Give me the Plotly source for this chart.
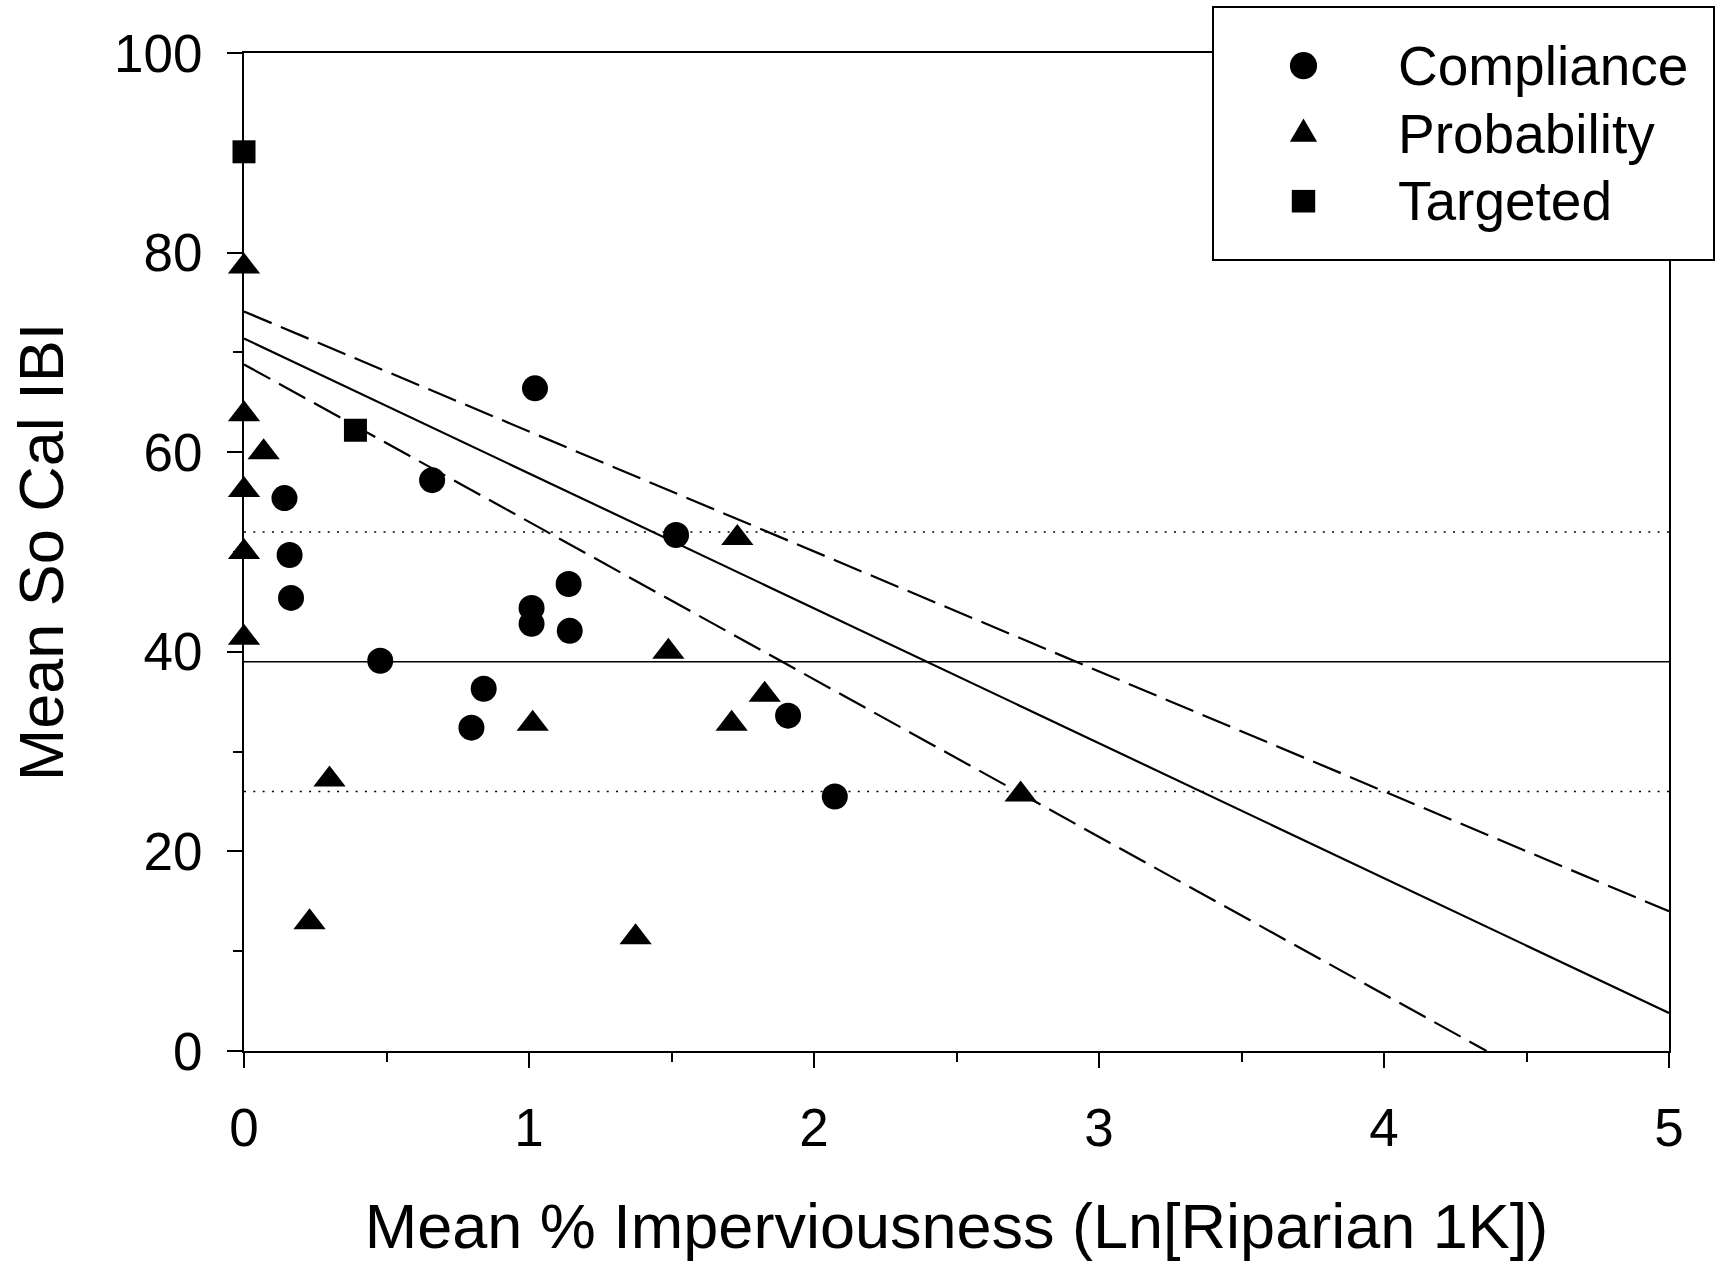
import plotly.graph_objects as go

# ---- data -------------------------------------------------------------
series_names = ["Compliance", "Probability", "Targeted"]

compliance_x = [0.142, 0.160, 0.165, 0.478, 0.660, 0.798, 0.841, 1.009,
                1.009, 1.021, 1.139, 1.143, 1.516, 1.909, 2.073]
compliance_y = [55.4, 49.7, 45.4, 39.1, 57.2, 32.4, 36.3, 44.4,
                42.8, 66.4, 46.8, 42.1, 51.7, 33.6, 25.5]

probability_x = [0.0, 0.0, 0.0, 0.0, 0.0, 0.069, 0.230, 0.300,
                 1.013, 1.374, 1.489, 1.711, 1.731, 1.827, 2.725]
probability_y = [78.6, 63.8, 56.2, 50.0, 41.4, 60.0, 12.9, 27.2,
                 32.8, 11.4, 40.0, 32.8, 51.4, 35.7, 25.7]

targeted_x = [0.0, 0.391]
targeted_y = [90.1, 62.2]

# regression line and its confidence limits (end points)
fit_x = [0.0, 5.0]
fit_y = [71.4, 3.8]
upper_x = [0.0, 5.0]
upper_y = [74.1, 14.0]
lower_x = [0.0, 4.36]
lower_y = [68.8, 0.0]

# reference IBI thresholds
threshold_solid = 39
threshold_dotted = [52, 26]

x_range = [0, 5]
y_range = [0, 100]
x_ticks = [0, 1, 2, 3, 4, 5]
y_ticks = [0, 20, 40, 60, 80, 100]

x_title = "Mean % Imperviousness (Ln[Riparian 1K])"
y_title = "Mean So Cal IBI"

# ---- figure -----------------------------------------------------------
FONT = "Liberation Sans, Arial, Helvetica, sans-serif"
W, H = 1715, 1263
ML, MR, MT, MB = 244, 46, 53, 212
PW, PH = W - ML - MR, H - MT - MB


def px_x(px):
    """pixel column -> paper x"""
    return (px - ML) / PW


def px_y(py):
    """pixel row -> paper y"""
    return (H - MB - py) / PH


fig = go.Figure()

# threshold lines
fig.add_trace(go.Scatter(x=x_range, y=[threshold_solid] * 2, mode="lines",
                         line=dict(color="black", width=1.6),
                         hoverinfo="skip", cliponaxis=False))
for yv in threshold_dotted:
    fig.add_trace(go.Scatter(x=x_range, y=[yv] * 2, mode="lines",
                             line=dict(color="black", width=1.6, dash="2px,7.3px"),
                             hoverinfo="skip"))

# regression and confidence limits
fig.add_trace(go.Scatter(x=upper_x, y=upper_y, mode="lines",
                         line=dict(color="black", width=2.2, dash="30px,10px"),
                         hoverinfo="skip"))
fig.add_trace(go.Scatter(x=lower_x, y=lower_y, mode="lines",
                         line=dict(color="black", width=2.2, dash="30px,10px"),
                         hoverinfo="skip"))
fig.add_trace(go.Scatter(x=fit_x, y=fit_y, mode="lines",
                         line=dict(color="black", width=2.2),
                         hoverinfo="skip"))

# site groups
fig.add_trace(go.Scatter(x=compliance_x, y=compliance_y, mode="markers",
                         name=series_names[0], cliponaxis=False,
                         marker=dict(symbol="circle", size=26, color="black",
                                     line=dict(width=0))))
fig.add_trace(go.Scatter(x=probability_x, y=probability_y, mode="markers",
                         name=series_names[1], cliponaxis=False,
                         marker=dict(symbol="triangle-up", size=28, color="black",
                                     line=dict(width=0))))
fig.add_trace(go.Scatter(x=targeted_x, y=targeted_y, mode="markers",
                         name=series_names[2], cliponaxis=False,
                         marker=dict(symbol="square", size=23, color="black",
                                     line=dict(width=0))))

axis_common = dict(
    showline=True, linewidth=2, linecolor="black", mirror=True,
    ticks="outside", ticklen=15, tickwidth=2, tickcolor="black",
    showgrid=False, zeroline=False,
    tickfont=dict(family=FONT, size=53, color="black"),
)

fig.update_xaxes(range=x_range, tickvals=x_ticks, ticklabelstandoff=14,
                 minor=dict(dtick=0.5, ticks="outside", ticklen=9, tickwidth=2,
                            tickcolor="black", showgrid=False),
                 title=dict(text=x_title, standoff=48,
                            font=dict(family=FONT, size=63, color="black")),
                 **axis_common)
fig.update_yaxes(range=y_range, tickvals=y_ticks, ticklabelstandoff=14,
                 minor=dict(dtick=10, ticks="outside", ticklen=9, tickwidth=2,
                            tickcolor="black", showgrid=False),
                 title=dict(text=y_title, standoff=30,
                            font=dict(family=FONT, size=63, color="black")),
                 **axis_common)

# legend box with glyphs and labels
shapes = [dict(type="rect", xref="paper", yref="paper", layer="above",
               x0=px_x(1213), x1=px_x(1714), y0=px_y(260), y1=px_y(7),
               fillcolor="white", line=dict(color="black", width=2))]
glyph_x = px_x(1303.5)
row_px = [65.7, 133.9, 201.2]
glyph_common = dict(xref="paper", yref="paper", layer="above",
                    xsizemode="pixel", ysizemode="pixel", xanchor=glyph_x,
                    fillcolor="black", line=dict(width=0))
shapes.append(dict(type="circle", yanchor=px_y(row_px[0]),
                   x0=-13.6, x1=13.6, y0=-13.6, y1=13.6, **glyph_common))
shapes.append(dict(type="path", yanchor=px_y(row_px[1]),
                   path="M-13.6,-7.8 L13.6,-7.8 L0,15.5 Z", **glyph_common))
shapes.append(dict(type="rect", yanchor=px_y(row_px[2]),
                   x0=-11.7, x1=11.7, y0=-11.3, y1=11.3, **glyph_common))

annotations = [dict(text=name, xref="paper", yref="paper",
                    x=px_x(1396), y=px_y(py), xanchor="left", yanchor="middle",
                    showarrow=False,
                    font=dict(family=FONT, size=55, color="black"))
               for name, py in zip(series_names, row_px)]

fig.update_layout(
    width=W, height=H,
    margin=dict(l=ML, r=MR, t=MT, b=MB, pad=0),
    paper_bgcolor="white", plot_bgcolor="white",
    showlegend=False,
    shapes=shapes, annotations=annotations,
    font=dict(family=FONT, color="black"),
)

fig.write_html("out.html")
